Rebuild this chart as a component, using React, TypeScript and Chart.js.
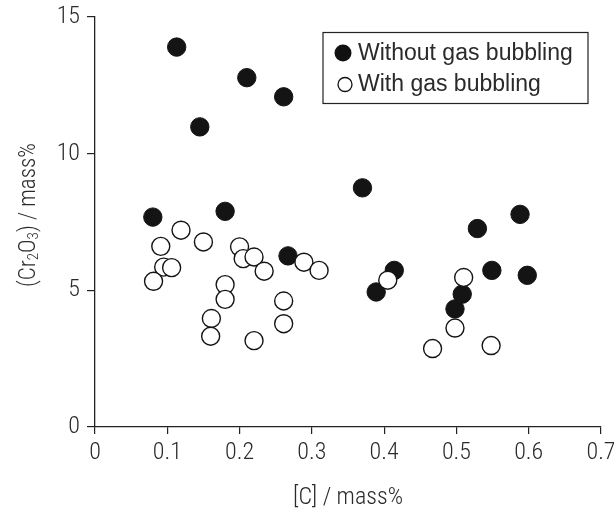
import React, { useEffect, useRef } from 'react';
import { Chart, registerables } from 'chart.js';

Chart.register(...registerables);

const seriesNames = ['Without gas bubbling', 'With gas bubbling'];

const withoutGasC = [0.113, 0.21, 0.261, 0.145, 0.08, 0.18, 0.37, 0.267, 0.389, 0.414, 0.498, 0.508, 0.529, 0.549, 0.598, 0.588];
const withoutGasCr2O3 = [13.9, 12.78, 12.08, 10.98, 7.68, 7.89, 8.75, 6.26, 4.94, 5.73, 4.32, 4.86, 7.26, 5.73, 5.55, 7.78];

const withGasC = [0.119, 0.091, 0.15, 0.095, 0.106, 0.081, 0.2, 0.205, 0.22, 0.234, 0.18, 0.18, 0.161, 0.16, 0.22, 0.261, 0.261, 0.289, 0.31, 0.405, 0.51, 0.498, 0.467, 0.548];
const withGasCr2O3 = [7.2, 6.61, 6.77, 5.85, 5.83, 5.33, 6.59, 6.16, 6.22, 5.7, 5.21, 4.67, 3.97, 3.32, 3.16, 4.61, 3.78, 6.03, 5.73, 5.37, 5.47, 3.62, 2.87, 2.98];

const xTicks = [0, 0.1, 0.2, 0.3, 0.4, 0.5, 0.6, 0.7];
const xTickLabels = ['0', '0.1', '0.2', '0.3', '0.4', '0.5', '0.6', '0.7'];
const yTicks = [0, 5, 10, 15];
const yTickLabels = ['0', '5', '10', '15'];

const xTitle = '[C] / mass%';
// y title pieces: [text, isSubscript]
const yTitleParts: [string, boolean][] = [
  ['(Cr', false],
  ['2', true],
  ['O', false],
  ['3', true],
  [') / mass%', false],
];

const axisFamily = 'Roboto, "DejaVu Sans Condensed", sans-serif';
const axisWeight = '300 condensed';
const legendFamily = '"Liberation Sans", Arial, sans-serif';
const textColor = '#2a2a2a';

const legendPlugin = {
  id: 'boxLegend',
  afterDraw(chart: any) {
    const { ctx, chartArea } = chart;
    const left = chartArea.right - 278;
    const top = chartArea.top + 15.5;
    const w = 265;
    const h = 71;
    ctx.save();
    ctx.lineWidth = 1.2;
    ctx.strokeStyle = '#222';
    ctx.strokeRect(left, top, w, h);
    ctx.font = '23px ' + legendFamily;
    ctx.textBaseline = 'middle';
    ctx.textAlign = 'left';
    ctx.beginPath();
    ctx.arc(left + 20, top + 20.5, 8.5, 0, Math.PI * 2);
    ctx.fillStyle = '#111';
    ctx.fill();
    ctx.fillStyle = textColor;
    ctx.fillText(seriesNames[0], left + 35, top + 21);
    ctx.beginPath();
    ctx.arc(left + 22, top + 52, 7, 0, Math.PI * 2);
    ctx.fillStyle = '#fff';
    ctx.fill();
    ctx.lineWidth = 1.3;
    ctx.strokeStyle = '#111';
    ctx.stroke();
    ctx.fillStyle = textColor;
    ctx.fillText(seriesNames[1], left + 35, top + 52.5);
    ctx.restore();
  },
};

const yTitlePlugin = {
  id: 'yTitle',
  afterDraw(chart: any) {
    const { ctx, chartArea } = chart;
    const big = `${axisWeight} 23px ${axisFamily}`;
    const small = `${axisWeight} 15px ${axisFamily}`;
    ctx.save();
    let total = 0;
    const widths = yTitleParts.map(([t, sub]) => {
      ctx.font = sub ? small : big;
      const wd = ctx.measureText(t).width;
      total += wd;
      return wd;
    });
    const cx = 27;
    const cy = (chartArea.top + chartArea.bottom) / 2 - 7;
    ctx.translate(cx, cy);
    ctx.rotate(-Math.PI / 2);
    ctx.fillStyle = textColor;
    ctx.textBaseline = 'alphabetic';
    ctx.textAlign = 'left';
    let x = -total / 2;
    const base = 8;
    yTitleParts.forEach(([t, sub], i) => {
      ctx.font = sub ? small : big;
      ctx.fillText(t, x, sub ? base + 3 : base);
      x += widths[i];
    });
    ctx.restore();
  },
};

export default function App() {
  const ref = useRef<HTMLCanvasElement>(null);
  useEffect(() => {
    document.body.style.margin = '0';
    const canvas = ref.current;
    if (!canvas) return;
    const chart = new Chart(canvas, {
      type: 'scatter',
      data: {
        datasets: [
          {
            label: seriesNames[0],
            data: withoutGasC.map((x, i) => ({ x, y: withoutGasCr2O3[i] })),
            backgroundColor: '#141414',
            borderColor: '#141414',
            borderWidth: 1,
            pointRadius: 9.2,
            order: 2,
          },
          {
            label: seriesNames[1],
            data: withGasC.map((x, i) => ({ x, y: withGasCr2O3[i] })),
            backgroundColor: '#ffffff',
            borderColor: '#141414',
            borderWidth: 1.4,
            pointRadius: 9,
            order: 1,
          },
        ],
      },
      options: {
        responsive: false,
        animation: false,
        events: [],
        layout: { padding: { top: 17, right: 13, left: 0, bottom: 0 } },
        plugins: {
          legend: { display: false },
          tooltip: { enabled: false },
        },
        scales: {
          x: {
            type: 'linear',
            min: 0,
            max: 0.7,
            afterBuildTicks: (s: any) => {
              s.ticks = xTicks.map((v) => ({ value: v }));
            },
            afterFit: (s: any) => {
              s.height = 86;
              s.paddingLeft = 0;
              s.paddingRight = 0;
            },
            grid: {
              display: true,
              drawOnChartArea: false,
              drawTicks: true,
              tickLength: 7,
              color: '#222',
              lineWidth: 1.2,
            },
            border: { display: true, color: '#222', width: 1.3 },
            ticks: {
              padding: 5,
              color: textColor,
              font: { family: axisFamily, size: 24, weight: axisWeight as any },
              maxRotation: 0,
              autoSkip: false,
              callback: (_v: any, i: number) => xTickLabels[i],
            },
            title: {
              display: true,
              text: xTitle,
              color: textColor,
              font: { family: axisFamily, size: 24, weight: axisWeight as any, lineHeight: 1.2 },
              padding: { top: 0, bottom: 1 },
            },
          },
          y: {
            type: 'linear',
            min: 0,
            max: 15,
            afterBuildTicks: (s: any) => {
              s.ticks = yTicks.map((v) => ({ value: v }));
            },
            afterFit: (s: any) => {
              s.width = 95;
              s.paddingTop = 0;
              s.paddingBottom = 0;
            },
            grid: {
              display: true,
              drawOnChartArea: false,
              drawTicks: true,
              tickLength: 8,
              color: '#222',
              lineWidth: 1.2,
            },
            border: { display: true, color: '#222', width: 1.3 },
            ticks: {
              padding: 7,
              color: textColor,
              font: { family: axisFamily, size: 24, weight: axisWeight as any },
              autoSkip: false,
              callback: (_v: any, i: number) => yTickLabels[i],
            },
            title: { display: false },
          },
        },
      },
      plugins: [legendPlugin, yTitlePlugin],
    });
    return () => chart.destroy();
  }, []);
  return (
    <div style={{ width: 614, height: 513 }}>
      <canvas ref={ref} width={614} height={513} />
    </div>
  );
}
